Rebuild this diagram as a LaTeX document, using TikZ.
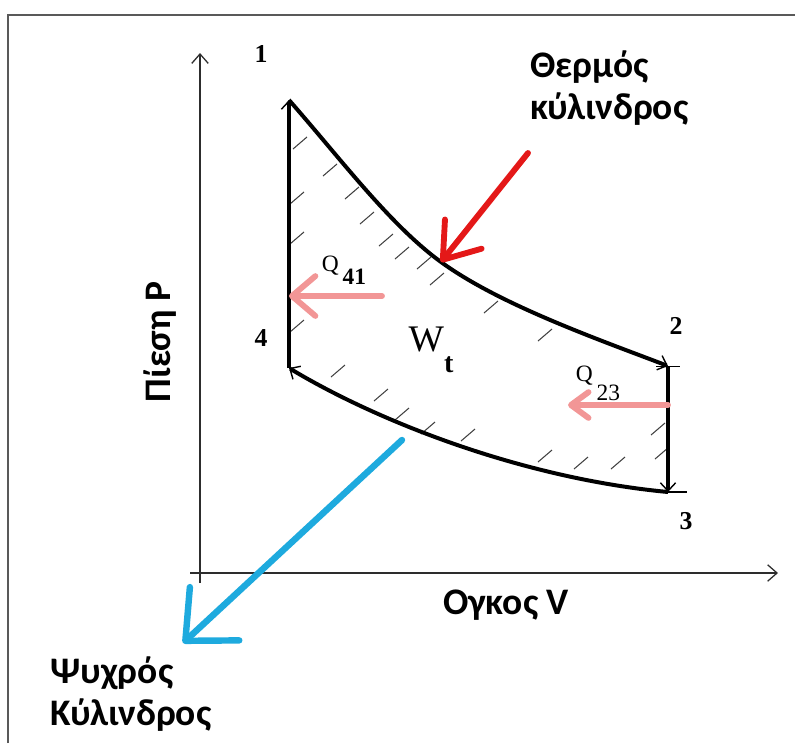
\documentclass[tikz,border=0pt]{standalone}
\usepackage{fontspec}
\setsansfont{Carlito}
\newfontfamily\serifnum{Liberation Serif}
\usetikzlibrary{arrows.meta}

\definecolor{hotred}{RGB}{228,24,24}
\definecolor{coldblue}{RGB}{30,170,222}
\definecolor{heatpink}{RGB}{242,150,150}

\tikzset{
  cycleline/.style={line width=3.4pt,black},
  hatch/.style={black!75,line width=0.9pt},
  axisline/.style={gray!35!black,line width=1.1pt},
  pen/.style={line width=5pt,line cap=round,line join=round},
  biglabel/.style={font=\sffamily\bfseries\fontsize{32}{36}\selectfont,inner sep=0pt},
  ptlabel/.style={font=\serifnum\bfseries\fontsize{22}{24}\selectfont,inner sep=0pt},
  qlabel/.style={font=\serifnum\fontsize{20}{22}\selectfont,inner sep=0pt},
}

\begin{document}
\begin{tikzpicture}[x=0.03cm,y=-0.03cm,
  barb/.style={-{Straight Barb[length=7pt,width=13pt,line width=1.2pt 0]}}]
\useasboundingbox (0,0) rectangle (795,743);
% frame
\draw[gray!70!black,line width=1.7pt] (8,743) -- (8,15) -- (795,15);

% axes
\coordinate (ybot) at (200,583);
\coordinate (ytop) at (200,53);
\coordinate (xleft) at (190,573);
\coordinate (xright) at (778,573);
\draw[axisline,-{Straight Barb[length=8pt,width=14pt]}] (ybot) -- (ytop);
\draw[axisline,-{Straight Barb[length=8pt,width=14pt]}] (xleft) -- (xright);

% cycle corners
\coordinate (p1) at (289,100);
\coordinate (p2) at (668,366);
\coordinate (p3) at (668,492);
\coordinate (p4) at (289,368);
\coordinate (hot) at (441,262);

% hatching inside the cycle
\foreach \hx/\hy in {300/143,330/170,352/193,367/218,297/198,297/238,
  386/240,402/253,424/263,437/279,297/326,491/307,545/335,
  338/371,381/395,402/414,428/428,468/435,545/456,581/463,618/463,
  658/429,662/453}
  \draw[hatch] (\hx,\hy) ++(-7,6) -- ++(14,-12);

% the cycle
\draw[cycleline,barb] (p4) -- (p1);
\draw[cycleline,barb] (p1) .. controls (340,158) and (390,225) .. (hot)
  .. controls (500,305) and (600,340) .. (p2);
\draw[cycleline,{Bar[width=20pt,line width=1pt 0]}-{Straight Barb[length=7pt,width=13pt,line width=1.2pt 0]}] (p2) -- (p3);
\draw[black,line width=1pt] ([xshift=-1pt]p3) -- ([xshift=16pt]p3);
\draw[cycleline,barb] (p3) .. controls (520,478) and (375,420) .. (p4);

% heat arrows
\coordinate (q41tail) at (382,296);
\coordinate (q41tip) at (289,296);
\coordinate (q23tail) at (668,405);
\coordinate (q23tip) at (568,405);
\draw[pen,heatpink,-{Straight Barb[round,length=20pt,width=34pt]}] (q41tail) -- (q41tip);
\draw[pen,heatpink,-{Straight Barb[round,length=15pt,width=22pt]}] (q23tail) -- (q23tip);

% hot and cold cylinder arrows
\coordinate (hottail) at (528,153);
\coordinate (coldtail) at (402,440);
\coordinate (coldtip) at (183,643);
\draw[pen,hotred,-{Straight Barb[round,length=28pt,width=40pt]}] (hottail) -- (hot);
\draw[pen,coldblue,line width=5.5pt,-{Straight Barb[round,length=34pt,width=62pt]}] (coldtail) -- (coldtip);

% labels
\node[ptlabel] (n1) at (261,54) {1};
\node[ptlabel] (n2) at (676,326) {2};
\node[ptlabel] (n3) at (686,521) {3};
\node[ptlabel] (n4) at (261,338) {4};
\node[qlabel] (q41) at (344,270) {Q\,\raisebox{-0.55em}{\bfseries 41}};
\node[qlabel] (q23) at (598,383) {Q\,\raisebox{-0.8em}{23}};
\node[font=\serifnum\fontsize{32}{34}\selectfont,inner sep=0pt] (work) at (431,350)
  {W\raisebox{-0.55em}{\fontsize{24}{26}\selectfont\bfseries t}};

\node[biglabel,anchor=north west,align=left] (hotlabel) at (530,50) {Θερμός\\κύλινδρος};
\node[biglabel,anchor=north west,align=left] (coldlabel) at (50,656) {Ψυχρός\\Κύλινδρος};
\node[biglabel] (vlabel) at (506,605) {Ογκος V};
\node[biglabel,rotate=90] (plabel) at (160,342) {Πίεση P};
\end{tikzpicture}
\end{document}
